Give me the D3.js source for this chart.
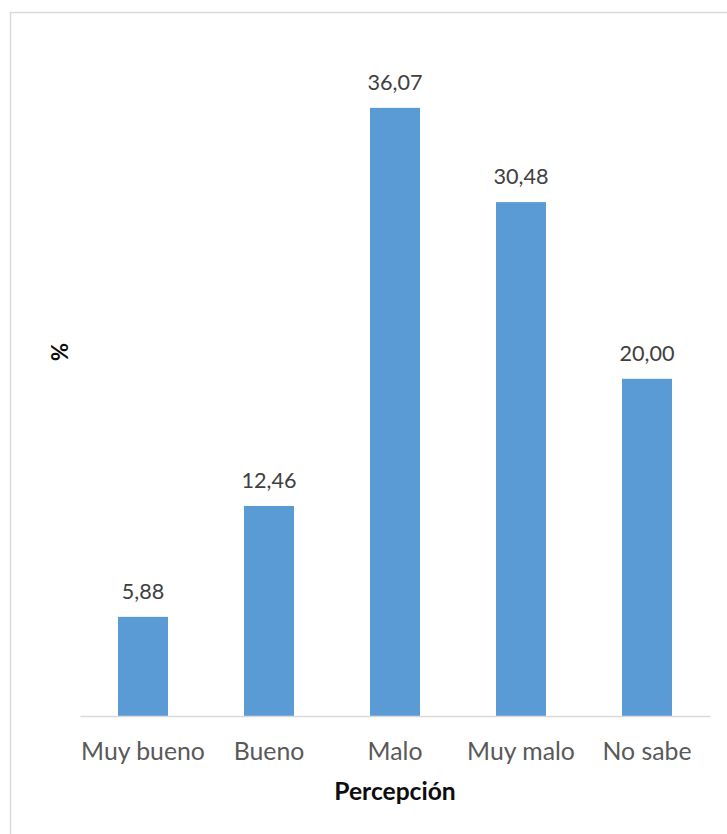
<!DOCTYPE html>
<html>
<head>
<meta charset="utf-8">
<script src="https://cdn.jsdelivr.net/npm/d3@7"></script>
<style>
  html, body { margin: 0; padding: 0; background: #fff; }
  svg { display: block; }
</style>
</head>
<body>
<svg id="chart" width="727" height="834"></svg>
<script>
// Percepción: porcentaje de respuestas por categoría
const categories = ["Muy bueno", "Bueno", "Malo", "Muy malo", "No sabe"];
const values = [5.88, 12.46, 36.07, 30.48, 20.00];
const valueLabels = ["5,88", "12,46", "36,07", "30,48", "20,00"];
const xTitle = "Percepción";
const yTitle = "%";

const svg = d3.select("#chart");
const font = "Lato, 'Open Sans', sans-serif";

// chart frame (right and bottom edges fall outside the page)
svg.append("rect")
  .attr("x", 10.5).attr("y", 12.5)
  .attr("width", 740).attr("height", 840)
  .attr("fill", "#fff")
  .attr("stroke", "#d9d9d9")
  .attr("stroke-width", 1.5);

const plot = { left: 80, right: 710, bottom: 716 };

const x = d3.scaleBand()
  .domain(categories)
  .range([plot.left, plot.right])
  .paddingInner(0.603)
  .paddingOuter(0.3015);

const y = d3.scaleLinear()
  .domain([0, 40])
  .range([plot.bottom, plot.bottom - 40 * 16.86]);

// bars
svg.append("g")
  .selectAll("rect")
  .data(values)
  .join("rect")
  .attr("x", (d, i) => x(categories[i]))
  .attr("y", d => y(d))
  .attr("width", x.bandwidth())
  .attr("height", d => y(0) - y(d))
  .attr("fill", "#5b9bd5");

// category axis
const xAxis = svg.append("g")
  .attr("transform", `translate(0,${plot.bottom})`)
  .call(d3.axisBottom(x).tickSize(0).tickPadding(26));
xAxis.select(".domain").attr("stroke", "#d9d9d9").attr("stroke-width", 1.5);
xAxis.selectAll("text")
  .attr("dy", null)
  .attr("y", 44)
  .attr("font-family", font)
  .attr("font-size", 24.8)
  .attr("fill", "#595959");

// value labels
svg.append("g")
  .selectAll("text")
  .data(values)
  .join("text")
  .attr("x", (d, i) => x(categories[i]) + x.bandwidth() / 2)
  .attr("y", d => y(d) - 18)
  .attr("text-anchor", "middle")
  .attr("font-family", font)
  .attr("font-size", 21.6)
  .attr("fill", "#404040")
  .text((d, i) => valueLabels[i]);

// axis titles
svg.append("text")
  .attr("x", (plot.left + plot.right) / 2)
  .attr("y", 800)
  .attr("text-anchor", "middle")
  .attr("font-family", font)
  .attr("font-size", 24.6)
  .attr("font-weight", "bold")
  .attr("fill", "#0d0d0d")
  .text(xTitle);

svg.append("text")
  .attr("transform", "translate(68,352) rotate(-90)")
  .attr("text-anchor", "middle")
  .attr("font-family", font)
  .attr("font-size", 22)
  .attr("font-weight", "bold")
  .attr("fill", "#0d0d0d")
  .text(yTitle);
</script>
</body>
</html>
